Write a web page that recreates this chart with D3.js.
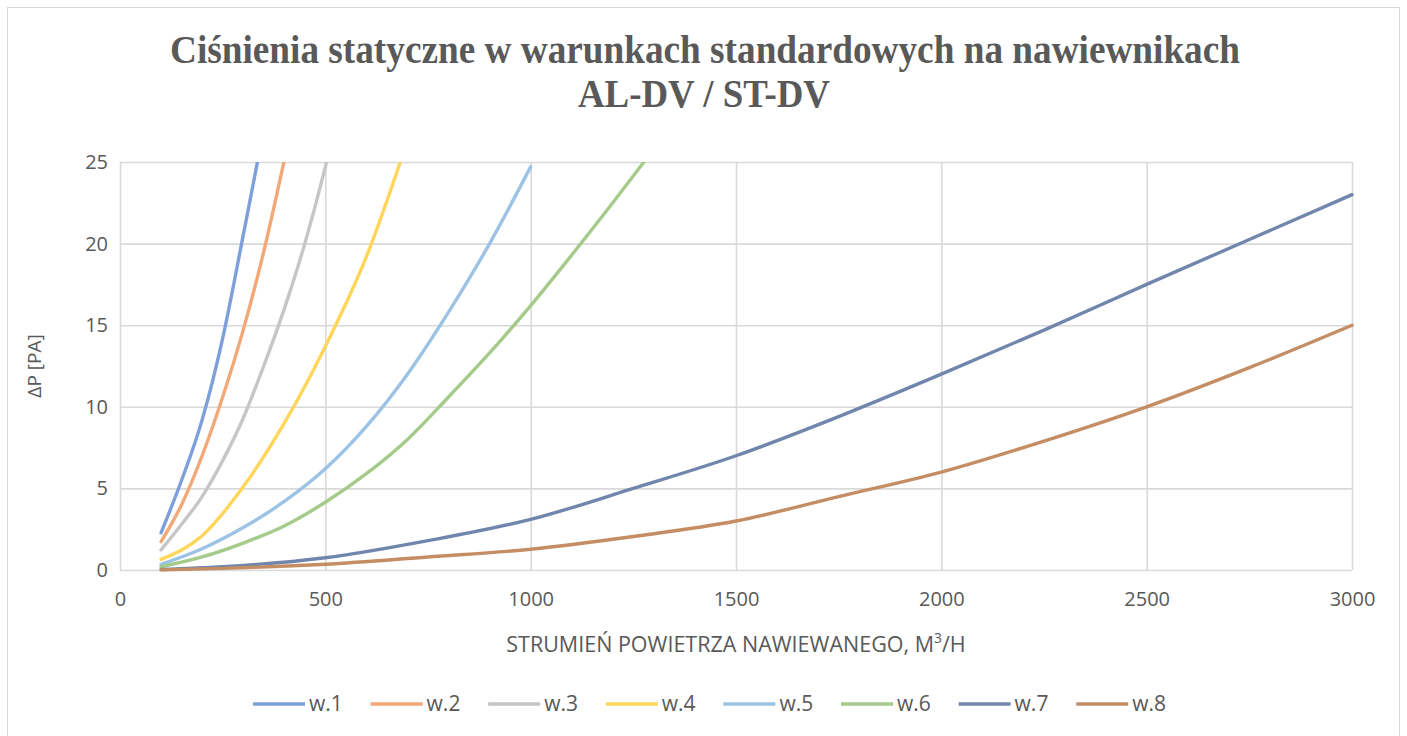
<!DOCTYPE html>
<html>
<head>
<meta charset="utf-8">
<script src="https://cdn.jsdelivr.net/npm/d3@7"></script>
<style>
  body { margin: 0; background: #fff; }
  text { fill: #595959; }
</style>
</head>
<body>
<svg id="chart"></svg>
<script>
// Values (flow in m3/h, pressure in Pa)
const seriesNames = ['w.1', 'w.2', 'w.3', 'w.4', 'w.5', 'w.6', 'w.7', 'w.8'];
const seriesColors = ['#7f9fda', '#f3a878', '#c6c6c6', '#ffd659', '#9cc2e5', '#a5cb8b', '#7086ad', '#c48d64'];

const w1Flow = [100, 150, 200, 250, 300, 350, 400];
const w1Pressure = [2.28, 5.5, 9.2, 14.2, 20.5, 27.0, 34.0];
const w2Flow = [100, 150, 200, 250, 300, 350, 400, 450];
const w2Pressure = [1.74, 4.0, 7.0, 10.6, 14.7, 19.5, 25.1, 31.0];
const w3Flow = [100, 150, 200, 250, 300, 350, 400, 450, 500, 550];
const w3Pressure = [1.23, 2.8, 4.5, 6.7, 9.3, 12.5, 16.0, 20.0, 24.7, 30.0];
const w4Flow = [100, 200, 300, 400, 500, 600, 700];
const w4Pressure = [0.65, 2.1, 5.1, 9.0, 13.7, 19.2, 26.3];
const w5Flow = [100, 200, 300, 400, 500, 600, 700, 800, 900, 1000];
const w5Pressure = [0.35, 1.3, 2.6, 4.2, 6.2, 8.8, 12.0, 15.8, 20.0, 24.7];
const w6Flow = [100, 200, 300, 400, 500, 600, 700, 800, 900, 1000, 1100, 1200, 1300];
const w6Pressure = [0.2, 0.8, 1.65, 2.7, 4.15, 5.9, 8.0, 10.6, 13.3, 16.2, 19.3, 22.5, 25.8];
const w7Flow = [100, 250, 500, 750, 1000, 1250, 1500, 1750, 2000, 2250, 2500, 2750, 3000];
const w7Pressure = [0.03, 0.2, 0.75, 1.8, 3.1, 5.0, 7.0, 9.4, 12.0, 14.7, 17.5, 20.25, 23.0];
const w8Flow = [100, 250, 500, 750, 1000, 1250, 1500, 1750, 2000, 2250, 2500, 2750, 3000];
const w8Pressure = [0.01, 0.1, 0.35, 0.8, 1.27, 2.05, 3.0, 4.5, 6.0, 7.9, 10.0, 12.4, 15.0];

const xTicks = [0, 500, 1000, 1500, 2000, 2500, 3000];
const yTicks = [0, 5, 10, 15, 20, 25];

const flows = [w1Flow, w2Flow, w3Flow, w4Flow, w5Flow, w6Flow, w7Flow, w8Flow];
const pressures = [w1Pressure, w2Pressure, w3Pressure, w4Pressure, w5Pressure, w6Pressure, w7Pressure, w8Pressure];

const width = 1407;
const height = 736;
const plot = { left: 120, right: 1352, top: 162, bottom: 570 };
const font = '"Open Sans", "Liberation Sans", sans-serif';

const svg = d3.select('#chart')
  .attr('width', width)
  .attr('height', height)
  .style('font-family', font);

// chart frame
svg.append('rect')
  .attr('x', 7.5).attr('y', 7.5)
  .attr('width', 1392).attr('height', 740)
  .attr('fill', '#fff')
  .attr('stroke', '#d9d9d9');

const x = d3.scaleLinear().domain([0, 3000]).range([plot.left, plot.right]);
const y = d3.scaleLinear().domain([0, 25]).range([plot.bottom, plot.top]);

// title
const title = svg.append('g')
  .style('font-family', '"Liberation Serif", "Times New Roman", serif')
  .style('font-weight', 'bold')
  .style('font-size', '39px');
title.append('text')
  .attr('x', 705).attr('y', 63)
  .attr('text-anchor', 'middle')
  .attr('textLength', 1070)
  .attr('lengthAdjust', 'spacingAndGlyphs')
  .text('Ciśnienia statyczne w warunkach standardowych na nawiewnikach');
title.append('text')
  .attr('x', 704).attr('y', 107)
  .attr('text-anchor', 'middle')
  .attr('textLength', 252)
  .attr('lengthAdjust', 'spacingAndGlyphs')
  .text('AL-DV / ST-DV');

// grid + axes
const yAxis = svg.append('g')
  .attr('transform', `translate(${plot.left},0)`)
  .call(d3.axisLeft(y).tickValues(yTicks).tickSize(-(plot.right - plot.left)).tickPadding(12));
const xAxis = svg.append('g')
  .attr('transform', `translate(0,${plot.bottom})`)
  .call(d3.axisBottom(x).tickValues(xTicks).tickFormat(d3.format('d'))
    .tickSize(-(plot.bottom - plot.top)).tickPadding(22));

[xAxis, yAxis].forEach(a => {
  a.select('.domain').remove();
  a.selectAll('.tick line').attr('stroke', '#d9d9d9').attr('stroke-width', 1.6);
  a.selectAll('.tick text')
    .style('font-family', font)
    .style('font-size', '20px')
    .attr('fill', '#595959');
});

// axis titles
svg.append('text')
  .attr('x', (plot.left + plot.right) / 2).attr('y', 652)
  .attr('text-anchor', 'middle')
  .style('font-size', '21.5px')
  .call(t => {
    t.append('tspan').text('STRUMIEŃ POWIETRZA NAWIEWANEGO, M');
    t.append('tspan').attr('dy', -9).style('font-size', '14px').text('3');
    t.append('tspan').attr('dy', 9).text('/H');
  });

svg.append('text')
  .attr('transform', `translate(41,${(plot.top + plot.bottom) / 2}) rotate(-90)`)
  .attr('text-anchor', 'middle')
  .style('font-size', '19px')
  .text('ΔP [PA]');

// series lines
svg.append('clipPath').attr('id', 'plot-clip')
  .append('rect')
  .attr('x', plot.left - 5).attr('y', plot.top)
  .attr('width', plot.right - plot.left + 10).attr('height', plot.bottom - plot.top + 10);

const line = d3.line()
  .x(d => x(d[0]))
  .y(d => y(d[1]))
  .curve(d3.curveMonotoneX);

const lines = svg.append('g').attr('clip-path', 'url(#plot-clip)');
seriesNames.forEach((name, i) => {
  lines.append('path')
    .datum(d3.zip(flows[i], pressures[i]))
    .attr('fill', 'none')
    .attr('stroke', seriesColors[i])
    .attr('stroke-width', 3.4)
    .attr('stroke-linecap', 'round')
    .attr('d', line);
});

// legend
const legend = svg.append('g').attr('transform', 'translate(253,704)');
const legendItem = legend.selectAll('g')
  .data(seriesNames)
  .join('g')
  .attr('transform', (d, i) => `translate(${i * 117.6},0)`);
legendItem.append('line')
  .attr('x1', 0).attr('x2', 52)
  .attr('stroke', (d, i) => seriesColors[i])
  .attr('stroke-width', 3.4);
legendItem.append('text')
  .attr('x', 56).attr('dy', '0.35em')
  .style('font-size', '21px')
  .text(d => d);
</script>
</body>
</html>
